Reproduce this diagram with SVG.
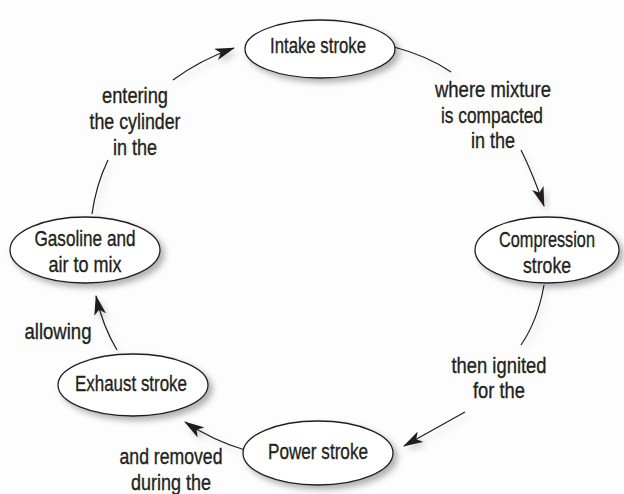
<svg xmlns="http://www.w3.org/2000/svg" width="624" height="494" viewBox="0 0 624 494">
  <defs>
    <filter id="shadow" x="-20%" y="-20%" width="150%" height="160%">
      <feDropShadow dx="4" dy="4" stdDeviation="3" flood-color="#000" flood-opacity="0.3"/>
    </filter>
    <filter id="lshadow" x="-20%" y="-20%" width="150%" height="160%">
      <feDropShadow dx="3" dy="4" stdDeviation="3" flood-color="#000" flood-opacity="0.18"/>
    </filter>
    <marker id="arrow" viewBox="0 0 20 12" refX="19" refY="6" markerWidth="20" markerHeight="12" markerUnits="userSpaceOnUse" orient="auto">
      <path d="M0,0 L20,6 L0,12 L5,6 Z" fill="#231f20"/>
    </marker>
  </defs>
  <style>
    .node ellipse { fill: #ffffff; stroke: #231f20; stroke-width: 1.3; filter: url(#shadow); }
    text { font-family: "Liberation Sans Narrow", "Liberation Sans", Arial, sans-serif; font-size: 22px; fill: #231f20; stroke: #231f20; stroke-width: 0.35; text-anchor: middle; }
    .edge path { fill: none; stroke: #231f20; stroke-width: 1.2; filter: url(#lshadow); }
    .arr { marker-end: url(#arrow); }
  </style>
  <rect x="0" y="0" width="624" height="494" fill="#fdfdfd"/>

  <g id="connectors">
    <g class="edge" id="e-intake-compression">
      <path d="M394,47 Q428,56 451,72"/>
      <path class="arr" d="M521,150 Q533,174 544,206"/>
      <text x="493" y="97" textLength="116" lengthAdjust="spacingAndGlyphs">where mixture</text>
      <text x="492" y="123" textLength="102" lengthAdjust="spacingAndGlyphs">is compacted</text>
      <text x="493" y="148" textLength="44" lengthAdjust="spacingAndGlyphs">in the</text>
    </g>
    <g class="edge" id="e-compression-power">
      <path d="M544,285 Q538,320 521,345"/>
      <path class="arr" d="M465,412 L404,446"/>
      <text x="499" y="373" textLength="95" lengthAdjust="spacingAndGlyphs">then ignited</text>
      <text x="499" y="398" textLength="52" lengthAdjust="spacingAndGlyphs">for the</text>
    </g>
    <g class="edge" id="e-power-exhaust">
      <path class="arr" d="M245,450 Q214,441 185,422"/>
      <text x="171" y="464" textLength="103" lengthAdjust="spacingAndGlyphs">and removed</text>
      <text x="171" y="490" textLength="80" lengthAdjust="spacingAndGlyphs">during the</text>
    </g>
    <g class="edge" id="e-exhaust-gasoline">
      <path class="arr" d="M117,350 Q103,327 96,296"/>
      <text x="58" y="339" textLength="67" lengthAdjust="spacingAndGlyphs">allowing</text>
    </g>
    <g class="edge" id="e-gasoline-intake">
      <path d="M92,214 Q96,185 108,160"/>
      <path class="arr" d="M173,80 Q200,60 234,48"/>
      <text x="135" y="103" textLength="66" lengthAdjust="spacingAndGlyphs">entering</text>
      <text x="135" y="129" textLength="91" lengthAdjust="spacingAndGlyphs">the cylinder</text>
      <text x="135" y="155" textLength="44" lengthAdjust="spacingAndGlyphs">in the</text>
    </g>
  </g>

  <g id="intake" class="node">
    <ellipse cx="320" cy="49" rx="75" ry="29"/>
    <text x="318" y="53" textLength="96" lengthAdjust="spacingAndGlyphs">Intake stroke</text>
  </g>
  <g id="compression" class="node">
    <ellipse cx="547" cy="250" rx="72" ry="33"/>
    <text x="547" y="247" font-size="21" textLength="96" lengthAdjust="spacingAndGlyphs">Compression</text>
    <text x="547" y="273" textLength="48" lengthAdjust="spacingAndGlyphs">stroke</text>
  </g>
  <g id="power" class="node">
    <ellipse cx="318" cy="453" rx="75" ry="32"/>
    <text x="318" y="459" textLength="100" lengthAdjust="spacingAndGlyphs">Power stroke</text>
  </g>
  <g id="exhaust" class="node">
    <ellipse cx="133" cy="385" rx="75" ry="31"/>
    <text x="131" y="391" textLength="112" lengthAdjust="spacingAndGlyphs">Exhaust stroke</text>
  </g>
  <g id="gasoline" class="node">
    <ellipse cx="85" cy="250" rx="75" ry="33"/>
    <text x="85" y="246" textLength="101" lengthAdjust="spacingAndGlyphs">Gasoline and</text>
    <text x="85" y="272" textLength="73" lengthAdjust="spacingAndGlyphs">air to mix</text>
  </g>
</svg>
